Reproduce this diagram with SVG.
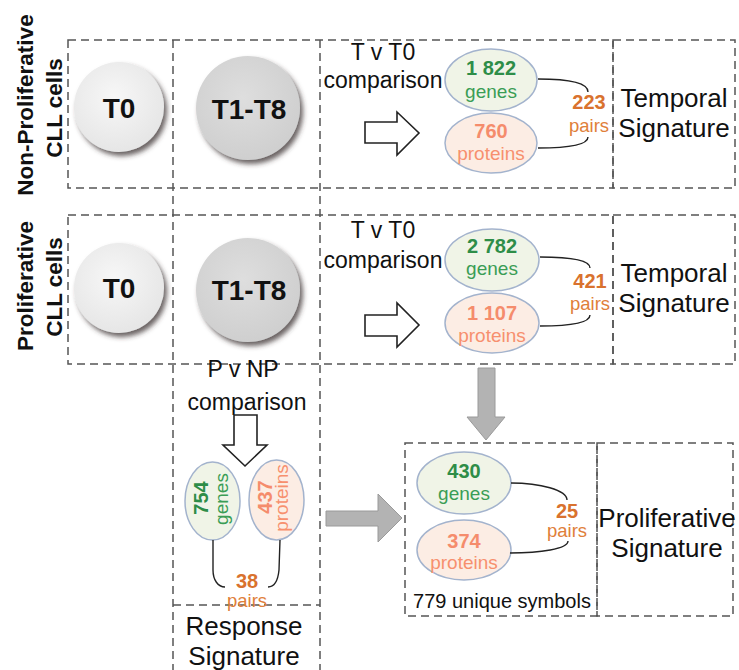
<svg xmlns="http://www.w3.org/2000/svg" width="739" height="670" viewBox="0 0 739 670">
<style>
text{font-family:"Liberation Sans",Arial,sans-serif;}
.dash{fill:none;stroke:#555;stroke-width:1.5;stroke-dasharray:8 5;}
.lab{font-size:23px;fill:#111;text-anchor:middle;}
.side{font-size:22.5px;font-weight:bold;fill:#111;text-anchor:middle;}
.sig{font-size:26px;fill:#111;text-anchor:middle;}
.tc{font-size:28px;font-weight:bold;fill:#111;text-anchor:middle;}
.gn{font-size:20px;font-weight:bold;fill:#2e8d48;text-anchor:middle;}
.gt{font-size:19px;fill:#3a9d55;text-anchor:middle;}
.pn{font-size:20px;font-weight:bold;fill:#f58c6c;text-anchor:middle;}
.pt{font-size:19px;fill:#f7906e;text-anchor:middle;}
.prn{font-size:20px;font-weight:bold;fill:#d9722e;text-anchor:middle;}
.prt{font-size:18.5px;fill:#e0803a;text-anchor:middle;}
.ge{fill:#f0f4e7;stroke:#a3b3cd;stroke-width:1.5;}
.pe{fill:#fcede4;stroke:#a3b3cd;stroke-width:1.5;}
.br{fill:none;stroke:#222;stroke-width:1.4;}
.oa{fill:#fff;stroke:#222;stroke-width:1.6;}
.ga{fill:#b3b3b3;stroke:#9a9a9a;stroke-width:1;}
</style>
<defs>
<radialGradient id="g0" cx="45%" cy="40%" r="60%">
<stop offset="0" stop-color="#f7f7f7"/><stop offset="1" stop-color="#e6e6e6"/>
</radialGradient>
<radialGradient id="g1" cx="45%" cy="40%" r="60%">
<stop offset="0" stop-color="#dedede"/><stop offset="1" stop-color="#cfcfcf"/>
</radialGradient>
<filter id="sh" x="-20%" y="-20%" width="150%" height="150%">
<feGaussianBlur in="SourceAlpha" stdDeviation="2.5"/>
<feOffset dx="3" dy="4" result="b"/>
<feFlood flood-color="#3a3030" flood-opacity="0.75"/>
<feComposite in2="b" operator="in"/>
<feMerge><feMergeNode/><feMergeNode in="SourceGraphic"/></feMerge>
</filter>
</defs>

<g id="frames">
<rect class="dash" x="68" y="40" width="545" height="148"/>
<rect class="dash" x="613" y="40" width="122" height="148"/>
<rect class="dash" x="68" y="215" width="545" height="149"/>
<rect class="dash" x="613" y="215" width="122" height="149"/>
<line class="dash" x1="173" y1="40" x2="173" y2="670"/>
<line class="dash" x1="320" y1="40" x2="320" y2="670"/>
<line class="dash" x1="173" y1="605" x2="320" y2="605"/>
<rect class="dash" x="405" y="443" width="192" height="173"/>
<rect class="dash" x="597" y="443" width="136" height="173"/>
</g>

<g id="label-np">
<text class="side" transform="translate(33,105) rotate(-90)">Non-Proliferative</text>
<text class="side" transform="translate(62,108) rotate(-90)">CLL cells</text>
</g>
<g id="label-p">
<text class="side" transform="translate(33,286) rotate(-90)">Proliferative</text>
<text class="side" transform="translate(62,287) rotate(-90)">CLL cells</text>
</g>

<g id="np-t0">
<circle cx="119" cy="107" r="45" fill="url(#g0)" filter="url(#sh)"/>
<text class="tc" x="119" y="118">T0</text>
</g>
<g id="np-t1t8">
<circle cx="248" cy="108" r="52" fill="url(#g1)" filter="url(#sh)"/>
<text class="tc" x="249" y="119">T1-T8</text>
</g>
<g id="p-t0">
<circle cx="119" cy="288" r="45" fill="url(#g0)" filter="url(#sh)"/>
<text class="tc" x="119" y="298">T0</text>
</g>
<g id="p-t1t8">
<circle cx="248" cy="290" r="52" fill="url(#g1)" filter="url(#sh)"/>
<text class="tc" x="249" y="300">T1-T8</text>
</g>

<g id="np-comparison">
<text class="lab" x="383" y="60">T v T0</text>
<text class="lab" x="383" y="88">comparison</text>
</g>
<g id="np-genes">
<ellipse class="ge" cx="491" cy="80" rx="46" ry="31"/>
<text class="gn" x="491" y="75">1 822</text>
<text class="gt" x="491" y="98">genes</text>
</g>
<g id="np-proteins">
<ellipse class="pe" cx="491" cy="143" rx="46" ry="30"/>
<text class="pn" x="491" y="138">760</text>
<text class="pt" x="491" y="160">proteins</text>
</g>
<g id="np-pairs">
<text class="prn" x="589" y="109">223</text>
<text class="prt" x="589" y="132">pairs</text>
</g>
<g id="np-signature">
<text class="sig" x="674" y="107">Temporal</text>
<text class="sig" x="674" y="137">Signature</text>
</g>

<g id="p-comparison">
<text class="lab" x="383" y="238">T v T0</text>
<text class="lab" x="383" y="268">comparison</text>
</g>
<g id="p-genes">
<ellipse class="ge" cx="492" cy="260" rx="47" ry="31"/>
<text class="gn" x="492" y="253">2 782</text>
<text class="gt" x="492" y="275">genes</text>
</g>
<g id="p-proteins">
<ellipse class="pe" cx="492" cy="323" rx="47" ry="30"/>
<text class="pn" x="492" y="320">1 107</text>
<text class="pt" x="492" y="342">proteins</text>
</g>
<g id="p-pairs">
<text class="prn" x="590" y="288">421</text>
<text class="prt" x="590" y="310">pairs</text>
</g>
<g id="p-signature">
<text class="sig" x="674" y="282">Temporal</text>
<text class="sig" x="674" y="312">Signature</text>
</g>

<g id="response-comparison">
<text class="lab" x="243" y="377">P v NP</text>
<text class="lab" x="247" y="410">comparison</text>
</g>
<g id="response-genes">
<ellipse class="ge" cx="212.5" cy="501" rx="27.5" ry="39"/>
<text class="gn" transform="translate(208,498) rotate(-90)">754</text>
<text class="gt" transform="translate(228,499) rotate(-90)">genes</text>
</g>
<g id="response-proteins">
<ellipse class="pe" cx="276.5" cy="500" rx="27.5" ry="40"/>
<text class="pn" transform="translate(272,497) rotate(-90)">437</text>
<text class="pt" transform="translate(288,498) rotate(-90)">proteins</text>
</g>
<g id="response-pairs">
<text class="prn" x="247" y="588">38</text>
<text class="prt" x="247" y="607">pairs</text>
</g>
<g id="response-signature">
<text class="sig" x="244" y="635">Response</text>
<text class="sig" x="244" y="665">Signature</text>
</g>

<g id="prolif-genes">
<ellipse class="ge" cx="464" cy="483" rx="47" ry="31"/>
<text class="gn" x="464" y="478">430</text>
<text class="gt" x="464" y="500">genes</text>
</g>
<g id="prolif-proteins">
<ellipse class="pe" cx="464" cy="550" rx="47" ry="30"/>
<text class="pn" x="464" y="548">374</text>
<text class="pt" x="464" y="569">proteins</text>
</g>
<g id="prolif-pairs">
<text class="prn" x="567" y="518">25</text>
<text class="prt" x="567" y="537">pairs</text>
</g>
<g id="prolif-unique">
<text x="502" y="608" style="font-size:20px;fill:#111;text-anchor:middle;">779 unique symbols</text>
</g>
<g id="prolif-signature">
<text class="sig" x="667" y="527">Proliferative</text>
<text class="sig" x="667" y="557">Signature</text>
</g>

<g id="connectors">
<path class="br" d="M538,79 C566,79 588,82 588,92"/>
<path class="br" d="M588,137 C588,145 566,148 538,148"/>
<path class="br" d="M540,257 C568,257 590,260 590,268"/>
<path class="br" d="M590,315 C590,323 568,326 540,326"/>
<path class="br" d="M511,483 C540,483 567,490 567,500"/>
<path class="br" d="M568,541 C568,549 540,553 510,553"/>
<path class="br" d="M213,540 L213,570 C213,580 218,587 225,587"/>
<path class="br" d="M280,540 L279,570 C278,580 275,587 268,587"/>
<polygon class="oa" points="365,122 397,122 397,112 419,133 397,155 397,143 365,143"/>
<polygon class="oa" points="365,315 397,315 397,303 419,325 397,347 397,336 365,336"/>
<polygon class="oa" points="234,415 257,415 257,445 267,445 245,466 223,445 234,445"/>
<polygon class="ga" points="478,368 495,368 495,417 505,417 486,440 467,417 478,417"/>
<polygon class="ga" points="326,511 378,511 378,494 402,518 378,542 378,526 326,526"/>
</g>
</svg>
